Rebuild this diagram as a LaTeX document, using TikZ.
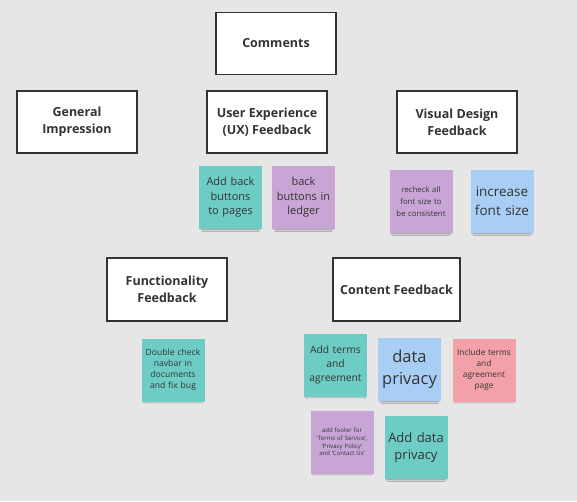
\documentclass[tikz,border=0pt]{standalone}
\usepackage{fontspec}
\setmainfont{Open Sans}
\usetikzlibrary{shadows.blur}
\definecolor{boardgray}{HTML}{E6E6E6}
\definecolor{inkgray}{HTML}{333333}
\definecolor{noteteal}{HTML}{6DCDC4}
\definecolor{notepurple}{HTML}{C9A5D6}
\definecolor{noteblue}{HTML}{A9CEF5}
\definecolor{notepink}{HTML}{F3A1A8}
\begin{document}
\begin{tikzpicture}[x=1pt,y=-1pt,
  topic/.style={draw=inkgray,line width=1.1pt,fill=white,minimum width=120pt,minimum height=62pt,
    align=center,text=inkgray,font=\fontsize{12.5}{17}\selectfont\bfseries,inner sep=2pt},
  sticky/.style={fill=#1,minimum width=63pt,minimum height=63pt,text width=58pt,align=center,
    text=inkgray,inner sep=2pt,
    blur shadow={shadow xshift=0pt,shadow yshift=-4pt,shadow scale=.9,shadow opacity=45,shadow blur steps=6}},
  fs/.style 2 args={font=\fontsize{#1}{#2}\selectfont}]
\useasboundingbox (0,0) rectangle (577,501);
\fill[boardgray] (0,0) rectangle (577,501);
% topics
\node[topic] (comments) at (276,43.5) {Comments};
\node[topic] (general) at (77,122) {General\\Impression};
\node[topic] (ux) at (267,122) {User Experience\\(UX) Feedback};
\node[topic] (visual) at (457,122) {Visual Design\\Feedback};
\node[topic,minimum height=63pt] (function) at (167,289.5) {Functionality\\Feedback};
\node[topic,minimum width=127pt,minimum height=63pt] (content) at (396.5,289.5) {Content Feedback};
% notes
\node[sticky=noteteal,fs={11}{14.5}] (backpages) at (230.5,197.5) {Add back\\buttons\\to pages};
\node[sticky=notepurple,fs={11}{14.5}] (backledger) at (303.5,197.5) {back\\buttons in\\ledger};
\node[sticky=notepurple,fs={7.8}{11.7}] (recheck) at (421,201.5) {recheck all\\font size to\\be consistent};
\node[sticky=noteblue,fs={13.5}{19}] (increase) at (502,201.5) {increase\\font size};
\node[sticky=noteteal,fs={8.6}{11}] (navbar) at (173,370) {Double check\\navbar in\\documents\\and fix bug};
\node[sticky=noteteal,fs={10.3}{14}] (terms) at (335.5,365) {Add terms\\and\\agreement};
\node[sticky=noteblue,fs={16.5}{22}] (privacy) at (409.5,369.5) {data\\privacy};
\node[sticky=notepink,fs={8.3}{11}] (include) at (484,370) {Include terms\\and\\agreement\\page};
\node[sticky=notepurple,fs={6}{7.6}] (footer) at (342,442) {add footer for\\`Terms of Service',\\`Privacy Policy'\\and `Contact Us'};
\node[sticky=noteteal,fs={13}{17}] (adddata) at (416,447.5) {Add data\\privacy};
\end{tikzpicture}
\end{document}
